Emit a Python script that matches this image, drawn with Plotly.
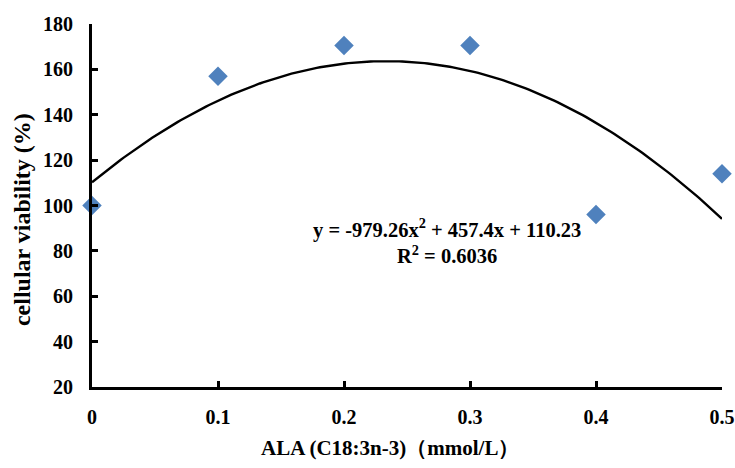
import numpy as np
import plotly.graph_objects as go

x_vals = [0, 0.1, 0.2, 0.3, 0.4, 0.5]
y_vals = [100, 157, 170.5, 170.5, 96, 114]
coef_a, coef_b, coef_c = -979.26, 457.4, 110.23
r2 = 0.6036
y_ticks = [20, 40, 60, 80, 100, 120, 140, 160, 180]
x_ticks = [0, 0.1, 0.2, 0.3, 0.4, 0.5]

xs = np.linspace(0, 0.5, 200)
ys = coef_a * xs**2 + coef_b * xs + coef_c

font_family = "Liberation Serif, Times New Roman, serif"

fig = go.Figure()
fig.add_trace(go.Scatter(x=xs, y=ys, mode="lines",
                         line=dict(color="black", width=2.4), showlegend=False))
fig.add_trace(go.Scatter(x=x_vals, y=y_vals, mode="markers",
                         marker=dict(symbol="diamond", size=15, color="#4F81BD"),
                         cliponaxis=False, showlegend=False))

fig.add_annotation(x=0.282, y=84.5, xref="x", yref="y",
                   text=f"<b>y = {coef_a}x<sup>2</sup> + {coef_b}x + {coef_c}<br>R<sup>2</sup> = {r2}</b>",
                   showarrow=False, align="center", xanchor="center", yanchor="middle",
                   font=dict(family=font_family, size=20.5, color="black"))

fig.add_annotation(x=0.473, y=-0.168, xref="paper", yref="paper",
                   text="<b>ALA (C18:3n-3)（mmol/L）</b>", showarrow=False,
                   xanchor="center", yanchor="middle",
                   font=dict(family=font_family, size=21, color="black"))
fig.add_annotation(x=-0.111, y=0.46, xref="paper", yref="paper",
                   text="<b>cellular viability (%)</b>", showarrow=False, textangle=-90,
                   xanchor="center", yanchor="middle",
                   font=dict(family=font_family, size=24, color="black"))

fig.update_layout(
    width=735, height=468,
    margin=dict(l=92, r=13, t=24, b=81, autoexpand=False),
    paper_bgcolor="white", plot_bgcolor="white",
    font=dict(family=font_family, color="black"),
)
fig.update_xaxes(range=[0, 0.5], tickvals=x_ticks, ticktext=[str(v) for v in x_ticks],
                 showgrid=False, zeroline=False, showline=True, linecolor="black",
                 linewidth=3, ticks="inside", ticklen=6, tickwidth=2.5, tickcolor="black",
                 automargin=False, ticklabelstandoff=10,
                 tickfont=dict(size=20, family=font_family, weight="bold"))
fig.update_yaxes(range=[20, 180], tickvals=y_ticks,
                 showgrid=False, zeroline=False, showline=True, linecolor="black",
                 linewidth=3, ticks="inside", ticklen=6, tickwidth=2.5, tickcolor="black",
                 automargin=False, ticklabelstandoff=12,
                 tickfont=dict(size=20, family=font_family, weight="bold"))

fig.write_html("out.html")
